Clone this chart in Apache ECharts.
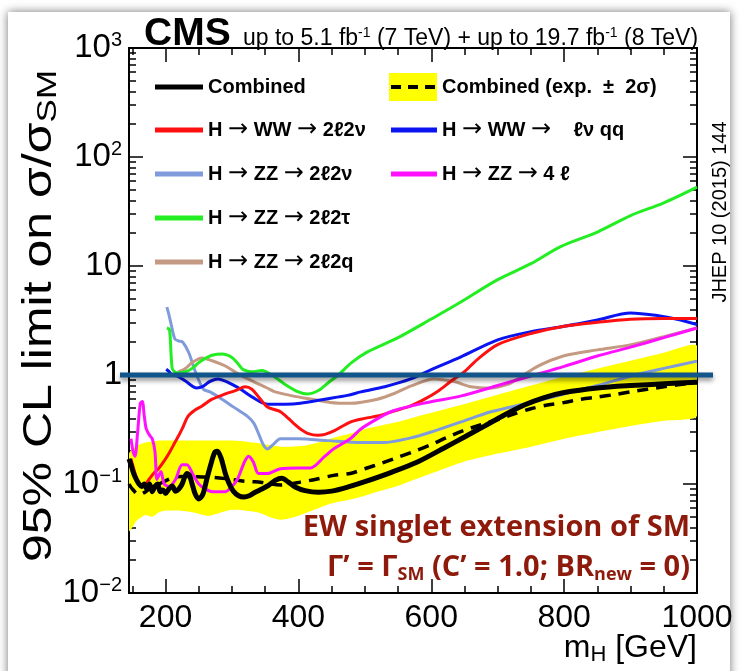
<!DOCTYPE html>
<html>
<head>
<meta charset="utf-8">
<script src="https://cdn.jsdelivr.net/npm/echarts@6/dist/echarts.min.js"></script>
<style>
  html, body { margin: 0; padding: 0; background: #fff; }
  #paper { position: absolute; left: 8px; top: 12px; width: 722px; height: 680px; background: #fff; box-shadow: 0 0 9px rgba(0,0,0,0.55); }
  #main { position: absolute; left: 0; top: 0; width: 740px; height: 671px; }
</style>
</head>
<body>
<div id="paper"></div>
<div id="main"></div>
<script>
// x axis ticks (GeV)
const xMajor = [200, 400, 600, 800, 1000];
const xMinor = [150, 250, 300, 350, 450, 500, 550, 650, 700, 750, 850, 900, 950];

// Combined observed
const obsM = [145, 148, 152, 156, 160, 164, 168, 172, 176, 180, 184, 188, 192, 196, 200, 205, 210, 215, 220, 225, 232, 236, 240, 245, 250, 256, 262, 268, 274, 278, 284, 290, 296, 302, 310, 318, 326, 335, 345, 355, 365, 375, 385, 395, 410, 430, 450, 475, 500, 540, 580, 620, 650, 680, 710, 740, 770, 800, 850, 900, 950, 1000];
const obsV = [0.17, 0.15, 0.125, 0.11, 0.1, 0.095, 0.1, 0.09, 0.1, 0.085, 0.095, 0.1, 0.085, 0.088, 0.082, 0.09, 0.096, 0.086, 0.09, 0.1, 0.125, 0.12, 0.1, 0.08, 0.073, 0.08, 0.11, 0.15, 0.195, 0.2, 0.17, 0.125, 0.1, 0.086, 0.078, 0.076, 0.078, 0.084, 0.09, 0.097, 0.108, 0.113, 0.104, 0.094, 0.087, 0.084, 0.086, 0.094, 0.105, 0.128, 0.16, 0.215, 0.27, 0.34, 0.43, 0.53, 0.62, 0.69, 0.76, 0.8, 0.83, 0.86];

// Combined expected (median) and +-2 sigma band
const expM = [145, 150, 160, 170, 180, 190, 200, 212, 225, 240, 255, 272, 290, 313, 330, 343, 358, 373, 388, 403, 425, 453, 478, 500, 525, 549, 575, 600, 625, 649, 675, 700, 725, 750, 775, 800, 825, 851, 875, 900, 950, 1000];
const expV = [0.1, 0.09, 0.08, 0.085, 0.095, 0.1, 0.107, 0.115, 0.117, 0.117, 0.116, 0.115, 0.112, 0.107, 0.105, 0.104, 0.1, 0.098, 0.1, 0.104, 0.11, 0.12, 0.125, 0.138, 0.155, 0.175, 0.2, 0.23, 0.27, 0.31, 0.35, 0.39, 0.44, 0.49, 0.53, 0.56, 0.6, 0.63, 0.66, 0.7, 0.78, 0.86];
const bandM = [145, 150, 155, 160, 170, 180, 190, 200, 220, 240, 264, 280, 300, 320, 343, 360, 373, 390, 410, 430, 448, 478, 500, 525, 549, 575, 600, 649, 700, 750, 800, 851, 900, 950, 1000];
const bandLo = [0.037, 0.04, 0.045, 0.048, 0.052, 0.05, 0.055, 0.057, 0.057, 0.055, 0.051, 0.054, 0.058, 0.057, 0.054, 0.049, 0.047, 0.049, 0.054, 0.06, 0.066, 0.072, 0.078, 0.087, 0.096, 0.11, 0.125, 0.16, 0.19, 0.22, 0.26, 0.3, 0.34, 0.38, 0.42];
const bandHi = [0.19, 0.21, 0.22, 0.23, 0.24, 0.245, 0.25, 0.25, 0.25, 0.25, 0.25, 0.25, 0.25, 0.245, 0.235, 0.225, 0.22, 0.22, 0.225, 0.24, 0.26, 0.29, 0.32, 0.345, 0.37, 0.41, 0.45, 0.54, 0.66, 0.8, 0.97, 1.15, 1.35, 1.6, 1.85];

// H -> WW -> 2l2nu
const ww2l2nuM = [148, 155, 160, 165, 170, 175, 182, 189, 200, 207, 214, 220, 225, 234, 245, 255, 270, 290, 305, 320, 330, 340, 353, 365, 373, 385, 395, 403, 415, 429, 440, 455, 478, 500, 519, 545, 569, 590, 610, 630, 649, 670, 700, 750, 800, 850, 900, 950, 1000];
const ww2l2nuV = [0.17, 0.12, 0.1, 0.096, 0.1, 0.11, 0.125, 0.137, 0.17, 0.2, 0.24, 0.28, 0.32, 0.42, 0.48, 0.52, 0.6, 0.67, 0.72, 0.78, 0.74, 0.63, 0.51, 0.48, 0.46, 0.4, 0.35, 0.32, 0.29, 0.28, 0.285, 0.31, 0.37, 0.4, 0.42, 0.47, 0.52, 0.6, 0.71, 0.88, 1.06, 1.4, 1.9, 2.4, 2.8, 3.05, 3.25, 3.3, 3.3];

// H -> WW -> lnu qq
const wwlnuqqM = [201, 205, 210, 217, 230, 247, 257, 265, 272, 279, 290, 300, 313, 330, 353, 380, 403, 440, 474, 494, 530, 569, 600, 644, 700, 750, 800, 850, 900, 942, 970, 1000];
const wwlnuqqV = [1.13, 1.08, 1.0, 0.98, 0.88, 0.76, 0.79, 0.86, 0.9, 0.92, 0.88, 0.82, 0.74, 0.63, 0.54, 0.54, 0.55, 0.6, 0.65, 0.7, 0.78, 0.92, 1.12, 1.46, 2.1, 2.5, 2.8, 3.2, 3.7, 3.5, 3.25, 2.9];

// H -> ZZ -> 2l2nu
const zz2l2nuM = [202, 205, 208, 214, 220, 226, 235, 245, 257, 267, 285, 302, 323, 333, 340, 347, 353, 362, 373, 400, 444, 494, 528, 569, 600, 644, 690, 750, 800, 850, 901, 950, 1000];
const zz2l2nuV = [4.2, 3.6, 3.0, 2.14, 2.05, 2.0, 1.6, 1.07, 0.74, 0.7, 0.6, 0.51, 0.42, 0.36, 0.29, 0.23, 0.21, 0.23, 0.26, 0.26, 0.25, 0.24, 0.24, 0.265, 0.3, 0.37, 0.46, 0.56, 0.67, 0.8, 0.98, 1.15, 1.34];

// H -> ZZ -> 4l
const zz4lM = [148, 151, 154, 158, 162, 165, 168, 171, 176, 180, 184, 187, 190, 193, 198, 205, 215, 225, 232, 242, 250, 260, 270, 280, 290, 300, 308, 315, 320, 325, 332, 340, 353, 373, 400, 418, 440, 453, 478, 494, 520, 543, 594, 644, 700, 750, 800, 851, 900, 950, 1000];
const zz4lV = [0.26, 0.2, 0.18, 0.3, 0.55, 0.57, 0.42, 0.32, 0.28, 0.26, 0.2, 0.11, 0.12, 0.13, 0.1, 0.095, 0.11, 0.15, 0.15, 0.12, 0.1, 0.09, 0.085, 0.085, 0.085, 0.095, 0.11, 0.14, 0.165, 0.18, 0.16, 0.125, 0.125, 0.138, 0.14, 0.14, 0.18, 0.21, 0.26, 0.32, 0.4, 0.47, 0.56, 0.64, 0.8, 0.98, 1.2, 1.5, 1.8, 2.2, 2.7];

// H -> ZZ -> 2l2tau
const zz2l2tauM = [202, 206, 210, 215, 220, 230, 240, 250, 260, 270, 285, 300, 310, 317, 330, 345, 360, 380, 400, 414, 430, 445, 460, 480, 504, 550, 600, 640, 700, 750, 794, 850, 900, 950, 1000];
const zz2l2tauV = [2.7, 2.6, 1.15, 1.06, 1.05, 1.07, 1.15, 1.3, 1.42, 1.52, 1.56, 1.45, 1.25, 1.12, 1.07, 1.1, 1.0, 0.82, 0.7, 0.67, 0.72, 0.85, 1.0, 1.3, 1.63, 2.2, 3.26, 4.5, 7.5, 10.5, 15, 20.5, 29, 38, 53];

// H -> ZZ -> 2l2q
const zz2l2qM = [219, 230, 240, 255, 270, 290, 310, 331, 353, 365, 393, 420, 448, 478, 519, 545, 569, 604, 634, 660, 690, 715, 730, 760, 800, 850, 901, 950, 1000];
const zz2l2qV = [1.07, 1.15, 1.3, 1.43, 1.35, 1.21, 1.02, 0.88, 0.76, 0.7, 0.64, 0.6, 0.56, 0.55, 0.6, 0.68, 0.79, 0.92, 0.87, 0.78, 0.76, 0.82, 0.92, 1.2, 1.5, 1.7, 1.9, 2.25, 2.7];

const xMin = 145, xMax = 1000;
const FONT = 'Liberation Sans';

// legend / series names
const nComb = 'Combined';
const nExp = 'Combined (exp.  \u00b1  2\u03c3)';
const nWW2l2nu = 'H \u2192 WW \u2192 2\u21132\u03bd';
const nWWlnuqq = 'H \u2192 WW \u2192    \u2113\u03bd qq';
const nZZ2l2nu = 'H \u2192 ZZ \u2192 2\u21132\u03bd';
const nZZ4l = 'H \u2192 ZZ \u2192 4 \u2113';
const nZZ2l2tau = 'H \u2192 ZZ \u2192 2\u21132\u03c4';
const nZZ2l2q = 'H \u2192 ZZ \u2192 2\u21132q';

function pairs(m, v) {
  return m.map(function (x, i) { return [x, v[i]]; });
}

// log-space minor tick positions for the decoration axis
const yMinor = [];
for (let e = -2; e < 3; e++) {
  for (let k = 2; k <= 9; k++) yMinor.push(Math.log10(k) + e);
}

const chart = echarts.init(document.getElementById('main'), null, { renderer: 'canvas' });

function lineSeries(name, m, v, color, width, z) {
  return {
    name: name, type: 'line', data: pairs(m, v), showSymbol: false, smooth: 0.3,
    lineStyle: { color: color, width: width }, itemStyle: { color: color }, z: z, clip: true
  };
}

function xAx(pos, ticks, len, labels) {
  return {
    type: 'value', min: xMin, max: xMax, position: pos, gridIndex: 0,
    axisLine: { show: true, onZero: false, lineStyle: { color: '#000', width: 2 } },
    axisTick: { show: true, inside: true, length: len, customValues: ticks, lineStyle: { color: '#000', width: 1.5 } },
    axisLabel: labels ? {
      show: true, customValues: xMajor, fontFamily: FONT, fontSize: 32, color: '#000', margin: 9,
      formatter: function (v) { return String(v); }
    } : { show: false },
    splitLine: { show: false }
  };
}

const supRich = {
  b: { fontFamily: FONT, fontSize: 33, color: '#000' },
  s: { fontFamily: FONT, fontSize: 20, color: '#000', padding: [0, 0, 16, 0] }
};

function yLog(pos, labels) {
  return {
    type: 'log', logBase: 10, min: 0.01, max: 1000, position: pos, gridIndex: 0,
    axisLine: { show: true, lineStyle: { color: '#000', width: 2 } },
    axisTick: { show: true, inside: true, length: 14, lineStyle: { color: '#000', width: 1.5 } },
    axisLabel: labels ? {
      show: true, margin: 7, rich: supRich,
      formatter: function (v) {
        const e = Math.round(Math.log10(v));
        if (e === 0) return '{b|1}';
        if (e === 1) return '{b|10}';
        return '{b|10}{s|' + (e < 0 ? '\u2212' + (-e) : e) + '}';
      }
    } : { show: false },
    splitLine: { show: false }
  };
}

function yMinorAx(pos) {
  return {
    type: 'value', min: -2, max: 3, position: pos, gridIndex: 0,
    axisLine: { show: false },
    axisTick: { show: true, inside: true, length: 7, customValues: yMinor, lineStyle: { color: '#000', width: 1.5 } },
    axisLabel: { show: false }, splitLine: { show: false }
  };
}

const expIcon = 'image://data:image/svg+xml;utf8,' + encodeURIComponent(
  '<svg xmlns="http://www.w3.org/2000/svg" width="48" height="28"><rect width="48" height="28" fill="#ffff00"/>' +
  '<rect x="2" y="12" width="10" height="4" fill="#000"/><rect x="19" y="12" width="10" height="4" fill="#000"/><rect x="36" y="12" width="10" height="4" fill="#000"/></svg>');

// arrows are drawn larger and not bold, as in the original
const legText = {
  fontFamily: FONT, fontSize: 20, fontWeight: 'bold', color: '#000', lineHeight: 22,
  rich: { a: { fontFamily: 'DejaVu Sans', fontSize: 24, fontWeight: 'normal', color: '#000', lineHeight: 22 } }
};
function legFmt(name) {
  return name.replace(/\u2192/g, '{a|\u2192}');
}

const option = {
  animation: false,
  grid: { left: 129, right: 43, top: 48, bottom: 78, containLabel: false },
  xAxis: [
    xAx('bottom', xMajor, 14, true),
    xAx('bottom', xMinor, 7, false),
    xAx('top', xMajor, 14, false),
    xAx('top', xMinor, 7, false)
  ],
  yAxis: [
    yLog('left', true),
    yLog('right', false),
    yMinorAx('left'),
    yMinorAx('right')
  ],
  legend: [
    {
      left: 150, top: 71, orient: 'vertical', itemWidth: 48, itemHeight: 5, itemGap: 20, icon: 'rect',
      textStyle: legText, formatter: legFmt,
      data: [nComb, nWW2l2nu, nZZ2l2nu, nZZ2l2tau, nZZ2l2q]
    },
    {
      left: 384, top: 68, orient: 'vertical', itemWidth: 48, itemHeight: 28,
      textStyle: legText,
      data: [{ name: nExp, icon: expIcon }]
    },
    {
      left: 386, top: 113, orient: 'vertical', itemWidth: 46, itemHeight: 5, itemGap: 20, icon: 'rect',
      textStyle: legText, formatter: legFmt,
      data: [nWWlnuqq, nZZ4l]
    }
  ],
  series: [
    {
      name: nExp, type: 'custom', z: 1, clip: true,
      itemStyle: { color: '#ffff00' },
      data: [[bandM[0], bandHi[0]]],
      renderItem: function (params, api) {
        const pts = [];
        for (let i = 0; i < bandM.length; i++) pts.push(api.coord([bandM[i], bandHi[i]]));
        for (let i = bandM.length - 1; i >= 0; i--) pts.push(api.coord([bandM[i], bandLo[i]]));
        return { type: 'polygon', shape: { points: pts, smooth: 0.2 }, style: { fill: '#ffff00' } };
      }
    },
    {
      name: 'Expected', type: 'line', data: pairs(expM, expV), showSymbol: false, smooth: 0.3, z: 3,
      lineStyle: { color: '#000', width: 3.5, type: [11, 8] }
    },
    lineSeries(nZZ2l2nu, zz2l2nuM, zz2l2nuV, '#7f9bdc', 3, 4),
    lineSeries(nZZ2l2q, zz2l2qM, zz2l2qV, '#c59a82', 3, 4),
    lineSeries(nZZ2l2tau, zz2l2tauM, zz2l2tauV, '#22ee22', 3, 5),
    lineSeries(nWWlnuqq, wwlnuqqM, wwlnuqqV, '#0a14f0', 3, 5),
    lineSeries(nWW2l2nu, ww2l2nuM, ww2l2nuV, '#ff1010', 3, 5),
    lineSeries(nZZ4l, zz4lM, zz4lV, '#ff10ff', 3, 5),
    lineSeries(nComb, obsM, obsV, '#000000', 5, 6)
  ]
};

chart.setOption(option);

// annotations; the SM reference line is placed through the axis scale
const yOne = chart.convertToPixel({ yAxisIndex: 0 }, 1);
const red = '#8e1a0c';
chart.setOption({
  graphic: [
    { id: 'sm', type: 'line', z: 50, shape: { x1: 120, y1: yOne, x2: 713, y2: yOne },
      style: { stroke: '#11558a', lineWidth: 5, shadowBlur: 5, shadowOffsetY: 3, shadowColor: 'rgba(0,0,0,0.45)' } },
    { id: 'cms', type: 'text', x: 144, y: 34, z: 50,
      style: { text: 'CMS', font: 'bold 39px "Liberation Sans"', fill: '#000', verticalAlign: 'middle' } },
    { id: 'lumi', type: 'text', x: 243, y: 39, z: 50,
      style: {
        text: 'up to 5.1 fb{s|-1} (7 TeV) + up to 19.7 fb{s|-1} (8 TeV)',
        font: '23px "Liberation Sans"', fill: '#000', verticalAlign: 'middle',
        rich: { s: { font: '14px "Liberation Sans"', fill: '#000', padding: [0, 0, 12, 0] } }
      } },
    { id: 'ytitle', type: 'text', x: 40, y: 316, rotation: Math.PI / 2, scaleX: 1.25, z: 50,
      style: {
        text: '95% CL limit on \u03c3/\u03c3{s|SM}', font: '40px "Liberation Sans"', fill: '#000',
        align: 'center', verticalAlign: 'middle',
        rich: { s: { font: '28px "Liberation Sans"', fill: '#000', padding: [16, 0, 0, 0] } }
      } },
    { id: 'xtitle', type: 'text', x: 697, y: 648, z: 50,
      style: {
        text: 'm{s|H} [GeV]', font: '32px "Liberation Sans"', fill: '#000', align: 'right', verticalAlign: 'middle',
        rich: { s: { font: '22px "Liberation Sans"', fill: '#000', padding: [14, 0, 0, 0] } }
      } },
    { id: 'jhep', type: 'text', x: 720, y: 212, rotation: Math.PI / 2, z: 50,
      style: { text: 'JHEP 10 (2015) 144', font: '20px "Liberation Sans"', fill: '#000', align: 'center', verticalAlign: 'middle' } },
    { id: 'ew', type: 'text', x: 690, y: 528, z: 50,
      style: { text: 'EW singlet extension of SM', font: 'bold 29px "Open Sans"', fill: red, align: 'right', verticalAlign: 'middle' } },
    { id: 'gamma', type: 'text', x: 690, y: 568, z: 50,
      style: {
        text: '\u0393\u2019 = \u0393{s|SM} (C\u2019 = 1.0; BR{s|new} = 0)', font: 'bold 29px "Open Sans"', fill: red,
        align: 'right', verticalAlign: 'middle',
        rich: { s: { font: 'bold 18px "Open Sans"', fill: red, padding: [13, 0, 0, 0] } }
      } }
  ]
});
</script>
</body>
</html>
